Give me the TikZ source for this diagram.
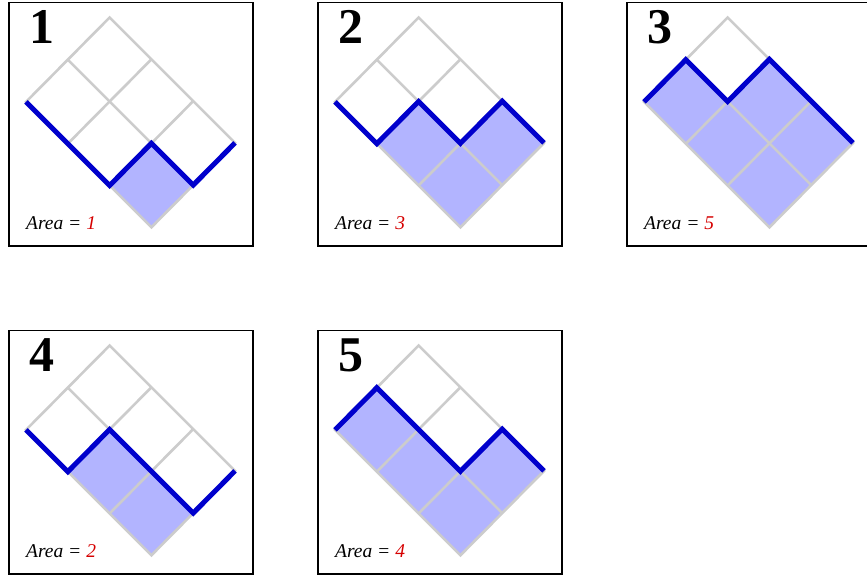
\documentclass[tikz,border=0pt]{standalone}
\usepackage{fontspec}
\setmainfont{Liberation Serif}
\definecolor{gridgray}{RGB}{204,204,204}
\definecolor{pathblue}{RGB}{0,0,204}
\definecolor{shadeblue}{RGB}{178,180,255}
\definecolor{areared}{RGB}{214,0,0}
\tikzset{
  boxline/.style={draw=black,line width=1.3pt},
  gridline/.style={draw=gridgray,line width=2.6pt},
  bluepath/.style={draw=pathblue,line width=5pt,line join=miter,line cap=square},
  cellfill/.style={fill=shadeblue},
  panelnum/.style={anchor=base,inner sep=0pt,font=\fontsize{50}{50}\selectfont\bfseries},
  arealabel/.style={anchor=base west,inner sep=0pt,font=\fontsize{19.5}{19.5}\selectfont\itshape}
}
\newcommand{\dyckpanel}[6]{%
  \begin{scope}[shift={(#1,#2)}]
    \begin{scope}[shift={(109.6,17.5)}]
      \begin{scope}[x={(41.8pt,-41.8pt)},y={(-41.8pt,-42.2pt)}]
        \fill[cellfill] #5 -- (3,2) -- cycle;
        \foreach \k in {1,2} \draw[gridline] (\k,0) -- (\k,2);
        \draw[gridline] (0,1) -- (3,1);
        \draw[gridline] (0,0) -- (3,0) -- (3,2) -- (0,2) -- cycle;
        \draw[bluepath] #5;
      \end{scope}
    \end{scope}
    \draw[boxline] (9,2.5) rectangle (253,246);
    \node[panelnum] (num#3) at (42,43) {#3};
    \node[arealabel] (area#3) at (26,229.5) {Area = \textcolor{areared}{#6}};
  \end{scope}
}
\begin{document}
\begin{tikzpicture}[x=1pt,y=-1pt]
\useasboundingbox (0,0) rectangle (867,576);
\fill[white] (0,0) rectangle (867,576);
\dyckpanel{0}{0}{1}{}{(0,2) -- (1,2) -- (2,2) -- (2,1) -- (3,1) -- (3,0)}{1}
\dyckpanel{309}{0}{2}{}{(0,2) -- (1,2) -- (1,1) -- (2,1) -- (2,0) -- (3,0)}{3}
\dyckpanel{618}{0}{3}{}{(0,2) -- (0,1) -- (1,1) -- (1,0) -- (2,0) -- (3,0)}{5}
\dyckpanel{0}{328}{4}{}{(0,2) -- (1,2) -- (1,1) -- (2,1) -- (3,1) -- (3,0)}{2}
\dyckpanel{309}{328}{5}{}{(0,2) -- (0,1) -- (1,1) -- (2,1) -- (2,0) -- (3,0)}{4}
\end{tikzpicture}
\end{document}
